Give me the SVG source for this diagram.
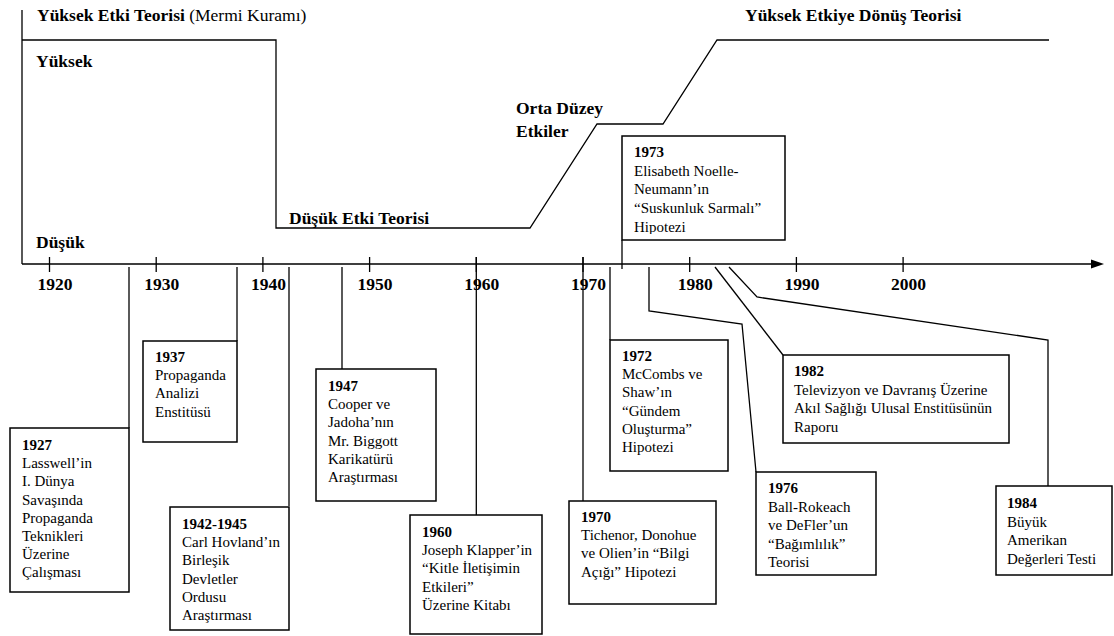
<svg xmlns="http://www.w3.org/2000/svg" width="1114" height="636" viewBox="0 0 1114 636">
<style>
.box{fill:#fff;stroke:#000;stroke-width:1.5}
.ln{fill:none;stroke:#000;stroke-width:1.3}
.t{font-family:"Liberation Serif","Times New Roman",serif;font-size:15px;fill:#000}
.b{font-weight:bold}
.lbl{font-family:"Liberation Serif","Times New Roman",serif;font-size:17.5px;font-weight:bold;fill:#000}
.n{font-weight:normal}
</style>
<defs>
<clipPath id="c1973"><rect x="622" y="136" width="163" height="98"/></clipPath>
</defs>
<rect width="1114" height="636" fill="#fff"/>

<g id="scale">
<path class="ln" d="M22 10 V264 M22 264 H1092"/>
<polygon points="1104,264 1091,259.5 1091,268.5" fill="#000"/>
<path class="ln" d="M49.5 257V272 M156.2 257V272 M262.9 257V272 M369.6 257V272 M476.3 257V272 M583 257V272 M689.7 257V272 M796.4 257V272 M903.1 257V272"/>
<text class="lbl" y="290"><tspan x="37.5">1920</tspan><tspan x="144.2">1930</tspan><tspan x="250.9">1940</tspan><tspan x="357.6">1950</tspan><tspan x="464.3">1960</tspan><tspan x="571">1970</tspan><tspan x="677.7">1980</tspan><tspan x="784.4">1990</tspan><tspan x="891.1">2000</tspan></text>
</g>

<g id="effect-curve">
<path class="ln" d="M22 40 H276 V228 H530 L597 124 H663 L717 40 H1049"/>
<text class="lbl" x="37" y="21">Yüksek Etki Teorisi <tspan class="n">(Mermi Kuramı)</tspan></text>
<text class="lbl" x="745" y="21">Yüksek Etkiye Dönüş Teorisi</text>
<text class="lbl" x="36" y="67">Yüksek</text>
<text class="lbl" x="36" y="248">Düşük</text>
<text class="lbl" x="289" y="224">Düşük Etki Teorisi</text>
<text class="lbl" x="516" y="114">Orta Düzey</text>
<text class="lbl" x="516" y="137">Etkiler</text>
</g>

<g id="connectors">
<path class="ln" d="M129 267V428"/>
<path class="ln" d="M237 267V341"/>
<path class="ln" d="M289 267V506"/>
<path class="ln" d="M342 267V369"/>
<path class="ln" d="M476.3 257V515"/>
<path class="ln" d="M583 257V501"/>
<path class="ln" d="M610 267V340"/>
<path class="ln" d="M622 240V269"/>
<path class="ln" d="M649 267V311L742 324L756 472"/>
<path class="ln" d="M715 267L783 355"/>
<path class="ln" d="M729 267L757 297L1048 340V486"/>
</g>

<g id="n1927">
<rect class="box" x="10" y="428" width="119" height="164"/>
<text class="t" x="22" y="450"><tspan class="b">1927</tspan><tspan x="22" dy="18.2">Lasswell’in</tspan><tspan x="22" dy="18.2">I. Dünya</tspan><tspan x="22" dy="18.2">Savaşında</tspan><tspan x="22" dy="18.2">Propaganda</tspan><tspan x="22" dy="18.2">Teknikleri</tspan><tspan x="22" dy="18.2">Üzerine</tspan><tspan x="22" dy="18.2">Çalışması</tspan></text>
</g>

<g id="n1937">
<rect class="box" x="143" y="341" width="94" height="101"/>
<text class="t" x="155" y="362"><tspan class="b">1937</tspan><tspan x="155" dy="18.2">Propaganda</tspan><tspan x="155" dy="18.2">Analizi</tspan><tspan x="155" dy="18.2">Enstitüsü</tspan></text>
</g>

<g id="n1942">
<rect class="box" x="170" y="507" width="119" height="123"/>
<text class="t" x="182" y="529"><tspan class="b">1942-1945</tspan><tspan x="182" dy="18.2">Carl Hovland’ın</tspan><tspan x="182" dy="18.2">Birleşik</tspan><tspan x="182" dy="18.2">Devletler</tspan><tspan x="182" dy="18.2">Ordusu</tspan><tspan x="182" dy="18.2">Araştırması</tspan></text>
</g>

<g id="n1947">
<rect class="box" x="316" y="369" width="120" height="132"/>
<text class="t" x="328" y="391"><tspan class="b">1947</tspan><tspan x="328" dy="18.2">Cooper ve</tspan><tspan x="328" dy="18.2">Jadoha’nın</tspan><tspan x="328" dy="18.2">Mr. Biggott</tspan><tspan x="328" dy="18.2">Karikatürü</tspan><tspan x="328" dy="18.2">Araştırması</tspan></text>
</g>

<g id="n1960">
<rect class="box" x="410" y="515" width="132" height="119"/>
<text class="t" x="422" y="537"><tspan class="b">1960</tspan><tspan x="422" dy="18.2">Joseph Klapper’in</tspan><tspan x="422" dy="18.2">“Kitle İletişimin</tspan><tspan x="422" dy="18.2">Etkileri”</tspan><tspan x="422" dy="18.2">Üzerine Kitabı</tspan></text>
</g>

<g id="n1970">
<rect class="box" x="569" y="501" width="147" height="103"/>
<text class="t" x="581" y="522"><tspan class="b">1970</tspan><tspan x="581" dy="18.2">Tichenor, Donohue</tspan><tspan x="581" dy="18.2">ve Olien’in “Bilgi</tspan><tspan x="581" dy="18.2">Açığı” Hipotezi</tspan></text>
</g>

<g id="n1972">
<rect class="box" x="610" y="340" width="118" height="131"/>
<text class="t" x="622" y="361"><tspan class="b">1972</tspan><tspan x="622" dy="18.2">McCombs ve</tspan><tspan x="622" dy="18.2">Shaw’ın</tspan><tspan x="622" dy="18.2">“Gündem</tspan><tspan x="622" dy="18.2">Oluşturma”</tspan><tspan x="622" dy="18.2">Hipotezi</tspan></text>
</g>

<g id="n1973">
<rect class="box" x="622" y="136" width="163" height="104"/>
<text class="t" x="634" y="157" clip-path="url(#c1973)"><tspan class="b">1973</tspan><tspan x="634" dy="18.7">Elisabeth Noelle-</tspan><tspan x="634" dy="18.7">Neumann’ın</tspan><tspan x="634" dy="18.7">“Suskunluk Sarmalı”</tspan><tspan x="634" dy="18.7">Hipotezi</tspan></text>
</g>

<g id="n1976">
<rect class="box" x="756" y="472" width="120" height="103"/>
<text class="t" x="768" y="493"><tspan class="b">1976</tspan><tspan x="768" dy="18.5">Ball-Rokeach</tspan><tspan x="768" dy="18.5">ve DeFler’un</tspan><tspan x="768" dy="18.5">“Bağımlılık”</tspan><tspan x="768" dy="18.5">Teorisi</tspan></text>
</g>

<g id="n1982">
<rect class="box" x="783" y="355" width="226" height="88"/>
<text class="t" x="794" y="376"><tspan class="b">1982</tspan><tspan x="794" dy="18.5">Televizyon ve Davranış Üzerine</tspan><tspan x="794" dy="18.5">Akıl Sağlığı Ulusal Enstitüsünün</tspan><tspan x="794" dy="18.5">Raporu</tspan></text>
</g>

<g id="n1984">
<rect class="box" x="996" y="486" width="116" height="89"/>
<text class="t" x="1007" y="508"><tspan class="b">1984</tspan><tspan x="1007" dy="18.5">Büyük</tspan><tspan x="1007" dy="18.5">Amerikan</tspan><tspan x="1007" dy="18.5">Değerleri Testi</tspan></text>
</g>
</svg>
